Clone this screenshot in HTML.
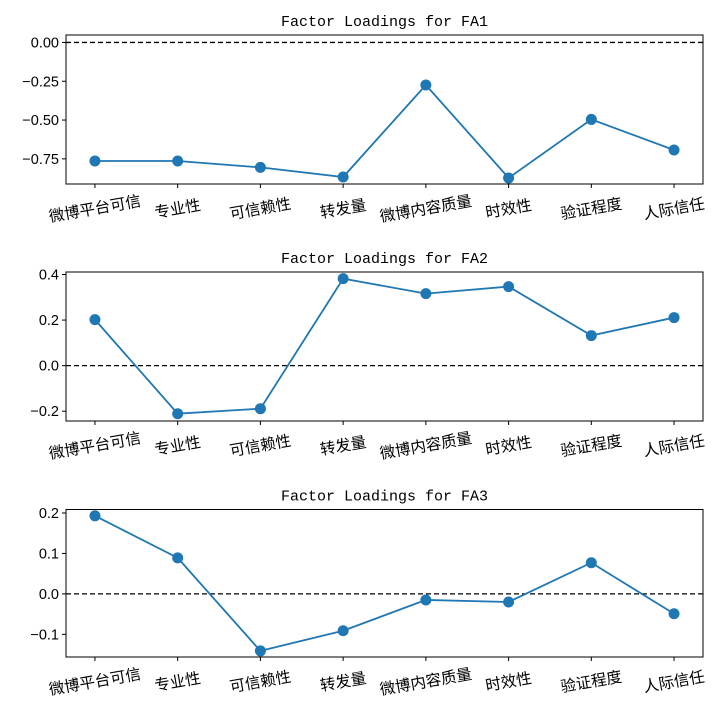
<!DOCTYPE html>
<html><head><meta charset="utf-8"><style>body{margin:0;background:#fff}svg{display:block}</style></head>
<body>
<svg id="c" width="720" height="715" xmlns="http://www.w3.org/2000/svg"></svg>
<script>
const categories=["微博平台可信","专业性","可信赖性","转发量","微博内容质量","时效性","验证程度","人际信任"];
const fa1=[-0.764,-0.764,-0.805,-0.867,-0.274,-0.873,-0.496,-0.693];
const fa2=[0.202,-0.211,-0.189,0.382,0.316,0.347,0.132,0.211];
const fa3=[0.193,0.089,-0.141,-0.091,-0.015,-0.020,0.077,-0.049];
const ticks1=[0,-0.25,-0.5,-0.75];
const ticks2=[0.4,0.2,0,-0.2];
const ticks3=[0.2,0.1,0,-0.1];
const tickLabels1=["0.00","-0.25","-0.50","-0.75"];
const tickLabels2=["0.4","0.2","0.0","-0.2"];
const tickLabels3=["0.2","0.1","0.0","-0.1"];
const NS="http://www.w3.org/2000/svg";
const svg=document.getElementById('c');
function mk(tag,attrs,parent){const e=document.createElementNS(NS,tag);for(const k in attrs)e.setAttribute(k,attrs[k]);(parent||svg).appendChild(e);return e;}
const L=66,R=703;
function panel(idx,title,vals,ticks,labels,top,bottom,ymin,ymax){
  const g=mk('g',{});
  
  
  const n=vals.length;
  const xs=i=>L+(R-L)*(i+0.35)/(n-1+0.7);
  const ys=v=>bottom-(v-ymin)/(ymax-ymin)*(bottom-top);
  const t=mk('text',{x:(L+R)/2,y:top-9,'text-anchor':'middle','font-family':'Liberation Mono, monospace','font-size':'15'},g);
  t.textContent=title;
  
  
  const z=mk('line',{x1:L,x2:R,y1:ys(0),y2:ys(0),stroke:'#000','stroke-width':1.3,'stroke-dasharray':'5,3'},g);
  
  
  let pts=vals.map((v,i)=>xs(i)+','+ys(v)).join(' ');
  const pl=mk('polyline',{points:pts,fill:'none',stroke:'#1f77b4','stroke-width':1.8},g);
  
  
  vals.forEach((v,i)=>{
    const c=mk('circle',{cx:xs(i),cy:ys(v),r:5.5,fill:'#1f77b4'},g);
    
    
  });
  const fr=mk('rect',{x:L,y:top,width:R-L,height:bottom-top,fill:'none',stroke:'#000','stroke-width':1},g);
  
  
  ticks.forEach((tv,j)=>{
    const y=ys(tv);
    mk('line',{x1:L-4,x2:L,y1:y,y2:y,stroke:'#000'},g);
    const tl=mk('text',{x:L-7,y:y+5,'text-anchor':'end','font-family':'Liberation Sans, sans-serif','font-size':'14.5'},g);
    tl.textContent=labels[j].replace('-','\u2212');
    
    
  });
  categories.forEach((c,i)=>{
    const x=xs(i);
    mk('line',{x1:x,x2:x,y1:bottom,y2:bottom+4,stroke:'#000'},g);
    const tl=mk('text',{x:x,y:bottom+30,'text-anchor':'middle','font-family':'Liberation Sans, Noto Sans CJK SC, sans-serif','font-size':'15.5',transform:`rotate(-10 ${x} ${bottom+25})`},g);
    tl.textContent=c;
    
    
  });
}
panel(1,'Factor Loadings for FA1',fa1,ticks1,tickLabels1,35,184,-0.912,0.048);
panel(2,'Factor Loadings for FA2',fa2,ticks2,tickLabels2,272,421,-0.243,0.411);
panel(3,'Factor Loadings for FA3',fa3,ticks3,tickLabels3,509.5,657,-0.156,0.2086);
</script>
</body></html>
